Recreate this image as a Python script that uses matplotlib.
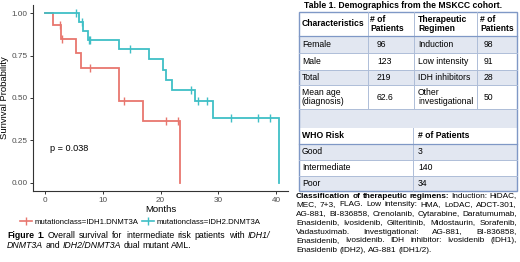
import matplotlib
matplotlib.use("Agg")
import matplotlib.pyplot as plt
from matplotlib.lines import Line2D
from matplotlib.patches import Rectangle
import numpy as np

plt.rcParams['font.family'] = ['Liberation Sans', 'DejaVu Sans']

# ---- KM data ----
idh1_time = [0, 1.4, 2.85, 5.4, 6.2, 12.8, 17.0, 23.3]
idh1_surv = [1.0, 0.93, 0.85, 0.765, 0.68, 0.485, 0.365, 0.0]
idh1_cens = [2.6, 3.05, 7.8, 13.7, 21.0, 23.1]

idh2_time = [0, 5.9, 6.7, 7.5, 12.8, 18.1, 20.5, 21.0, 22.0, 25.9, 29.0, 40.4]
idh2_surv = [1.0, 0.952, 0.898, 0.844, 0.789, 0.728, 0.668, 0.607, 0.546, 0.483, 0.382, 0.0]
idh2_cens = [5.5, 6.5, 7.6, 7.9, 14.7, 25.2, 26.5, 28.0, 32.1, 36.8, 38.9]

pval = "p = 0.038"
groups = ["mutationclass=IDH1.DNMT3A", "mutationclass=IDH2.DNMT3A"]
colors = ["#E8766E", "#3FBFC6"]

# ---- table data ----
char_head = ["Characteristics", "# of\nPatients", "Therapeutic\nRegimen", "# of\nPatients"]
char_labels = ["Female", "Male", "Total", "Mean age\n(diagnosis)"]
char_counts = ["96", "123", "219", "62.6"]
regimen_labels = ["Induction", "Low intensity", "IDH inhibitors", "Other\ninvestigational"]
regimen_counts = ["98", "91", "28", "50"]
who_head = ["WHO Risk", "# of Patients"]
who_labels = ["Good", "Intermediate", "Poor"]
who_counts = ["3", "140", "34"]

W, H = 520, 262
fig = plt.figure(figsize=(W / 100, H / 100), dpi=100)

# ---- survival plot ----
ax = fig.add_axes([33 / W, 1 - 191 / H, (288 - 33) / W, (191 - 5) / H])


def surv_at(times, surv, t):
    idx = np.searchsorted(times, t, side="right") - 1
    return surv[idx]


for t, s, c, col in [(idh1_time, idh1_surv, idh1_cens, colors[0]),
                     (idh2_time, idh2_surv, idh2_cens, colors[1])]:
    ax.step(t, s, where="post", color=col, lw=1.3, solid_joinstyle="miter")
    ax.plot(c, [surv_at(t, s, ci) for ci in c], ls="none", marker="|",
            ms=5.5, mew=1.0, color=col)

ax.text(0.9, 0.2, pval, fontsize=6.6, va="center", ha="left", color="black")
ax.set_xlim(-2, 42)
ax.set_ylim(-0.05, 1.05)
ax.set_xticks([0, 10, 20, 30, 40])
ax.set_yticks([0, 0.25, 0.5, 0.75, 1.0])
ax.set_yticklabels(["%.2f" % v for v in [0, 0.25, 0.5, 0.75, 1.0]])
for sp in ["top", "right"]:
    ax.spines[sp].set_visible(False)
for sp in ["left", "bottom"]:
    ax.spines[sp].set_color("#333333")
    ax.spines[sp].set_linewidth(0.8)
ax.tick_params(labelsize=5.9, colors="#333333", labelcolor="#4d4d4d",
               length=2.5, width=0.7, pad=1.5)
ax.set_xlabel("Months", fontsize=6.8, labelpad=1)
ax.set_ylabel("Surivival Probability", fontsize=6.8, labelpad=2)

handles = [Line2D([], [], color=colors[i], lw=1.2, marker="|", ms=6, mew=1.0)
           for i in range(2)]
fig.legend(handles, groups, loc="center", ncol=2, frameon=False,
           bbox_to_anchor=(140 / W, 1 - 222 / H), fontsize=5.6,
           handlelength=1.6, handletextpad=0.3, columnspacing=0.4)

# ---- overlay in pixel coords for table and captions ----
ov = fig.add_axes([0, 0, 1, 1], zorder=-1)
ov.set_xlim(0, W)
ov.set_ylim(H, 0)
ov.axis("off")
ov.patch.set_alpha(0)

renderer = fig.canvas.get_renderer()


def place_line(words, x0, x1, y, fs, justify=True):
    arts = []
    for w, style in words:
        kw = {}
        if style == "b":
            kw["fontweight"] = "bold"
        if style == "i":
            kw["fontstyle"] = "italic"
        arts.append(ov.text(0, y, w, fontsize=fs, va="center", ha="left", **kw))
    widths = [a.get_window_extent(renderer).width for a in arts]
    t2 = ov.text(0, y, "a a", fontsize=fs)
    t1 = ov.text(0, y, "a", fontsize=fs)
    space = t2.get_window_extent(renderer).width - 2 * t1.get_window_extent(renderer).width
    t2.remove()
    t1.remove()
    if justify and len(arts) > 1:
        gap = (x1 - x0 - sum(widths)) / (len(arts) - 1)
    else:
        gap = space
    x = x0
    for a, w in zip(arts, widths):
        a.set_x(x)
        x += w + gap


def words(s, style="n"):
    return [(w, style) for w in s.split()]


# figure caption
fs_cap = 6.3
place_line(words("Figure 1.", "b") + words("Overall survival for intermediate risk patients with")
           + [("IDH1/", "i")], 7, 270, 236, fs_cap)
place_line([("DNMT3A", "i")] + words("and") + [("IDH2/DNMT3A", "i")] + words("dual mutant AML."),
           7, 270, 245.5, fs_cap, justify=False)

# table title
ov.text(403, 5, "Table 1. Demographics from the MSKCC cohort.", fontsize=6.2,
        fontweight="bold", ha="center", va="center")

fs_t = 6.2
shade = "#e2e7f1"
inner = "#aebdd8"
outer = "#7f98c6"
tx0, tx1 = 299, 517
cols = [299, 368, 414, 477, 517]
rows = [12, 36, 53, 69.5, 85, 109, 128]
for i in range(len(rows) - 1):
    fill = shade if i in (1, 3, 5) else "white"
    ov.add_patch(Rectangle((tx0, rows[i]), tx1 - tx0, rows[i + 1] - rows[i],
                           facecolor=fill, edgecolor="none"))
for y in rows[1:-1]:
    ov.plot([tx0, tx1], [y, y], color=inner, lw=0.7)
for x in cols[1:-1]:
    ov.plot([x, x], [rows[0], rows[-2]], color=inner, lw=0.7)
ov.plot([tx0, tx1], [rows[1], rows[1]], color=outer, lw=0.9)

text_x = [302, 370, 418, 480]
val_x = [302, 377, 418, 484]
for j, h in enumerate(char_head):
    ov.text(text_x[j], (rows[0] + rows[1]) / 2, h, fontsize=fs_t, fontweight="bold",
            va="center", ha="left", linespacing=0.95)
for i in range(len(char_labels)):
    yc = (rows[i + 1] + rows[i + 2]) / 2
    ov.text(val_x[0], yc, char_labels[i], fontsize=fs_t, va="center", linespacing=0.95)
    ov.text(val_x[1], yc, char_counts[i], fontsize=fs_t, va="center")
    ov.text(val_x[2], yc, regimen_labels[i], fontsize=fs_t, va="center", linespacing=0.95)
    ov.text(val_x[3], yc, regimen_counts[i], fontsize=fs_t, va="center")

rows2 = [128, 144, 160, 176, 191]
for i in range(len(rows2) - 1):
    fill = shade if i in (1, 3) else "white"
    ov.add_patch(Rectangle((tx0, rows2[i]), tx1 - tx0, rows2[i + 1] - rows2[i],
                           facecolor=fill, edgecolor="none"))
for y in rows2[1:-1]:
    ov.plot([tx0, tx1], [y, y], color=inner, lw=0.7)
ov.plot([413, 413], [rows2[0], rows2[-1]], color=inner, lw=0.7)
ov.plot([tx0, tx1], [rows2[1], rows2[1]], color=outer, lw=0.9)
ov.text(302, (rows2[0] + rows2[1]) / 2, who_head[0], fontsize=fs_t, fontweight="bold", va="center")
ov.text(418, (rows2[0] + rows2[1]) / 2, who_head[1], fontsize=fs_t, fontweight="bold", va="center")
for i in range(len(who_labels)):
    yc = (rows2[i + 1] + rows2[i + 2]) / 2
    ov.text(302, yc, who_labels[i], fontsize=fs_t, va="center")
    ov.text(418, yc, who_counts[i], fontsize=fs_t, va="center")

# outer frame
ov.add_patch(Rectangle((tx0, rows[0]), tx1 - tx0, rows2[-1] - rows[0],
                       facecolor="none", edgecolor=outer, lw=1.0))

# classification note
note = [
    words("Classification of therapeutic regimens:", "b") + words("Induction: HiDAC,"),
    words("MEC, 7+3, FLAG. Low intensity: HMA, LoDAC, ADCT-301,"),
    words("AG-881, BI-836858, Crenolanib, Cytarabine, Daratumumab,"),
    words("Enasidenib, Ivosidenib, Gilteritinib, Midostaurin, Sorafenib,"),
    words("Vadastuximab. Investigational: AG-881, BI-836858,"),
    words("Enasidenib, Ivosidenib. IDH inhibitor: Ivosidenib (IDH1),"),
    words("Enasidenib (IDH2), AG-881 (IDH1/2)."),
]
note_y = [196, 205, 214, 223, 232, 241, 250]
for k, ln in enumerate(note):
    place_line(ln, 296, 517, note_y[k], 5.95, justify=(k < len(note) - 1))

fig.savefig("out.png", dpi=100)
